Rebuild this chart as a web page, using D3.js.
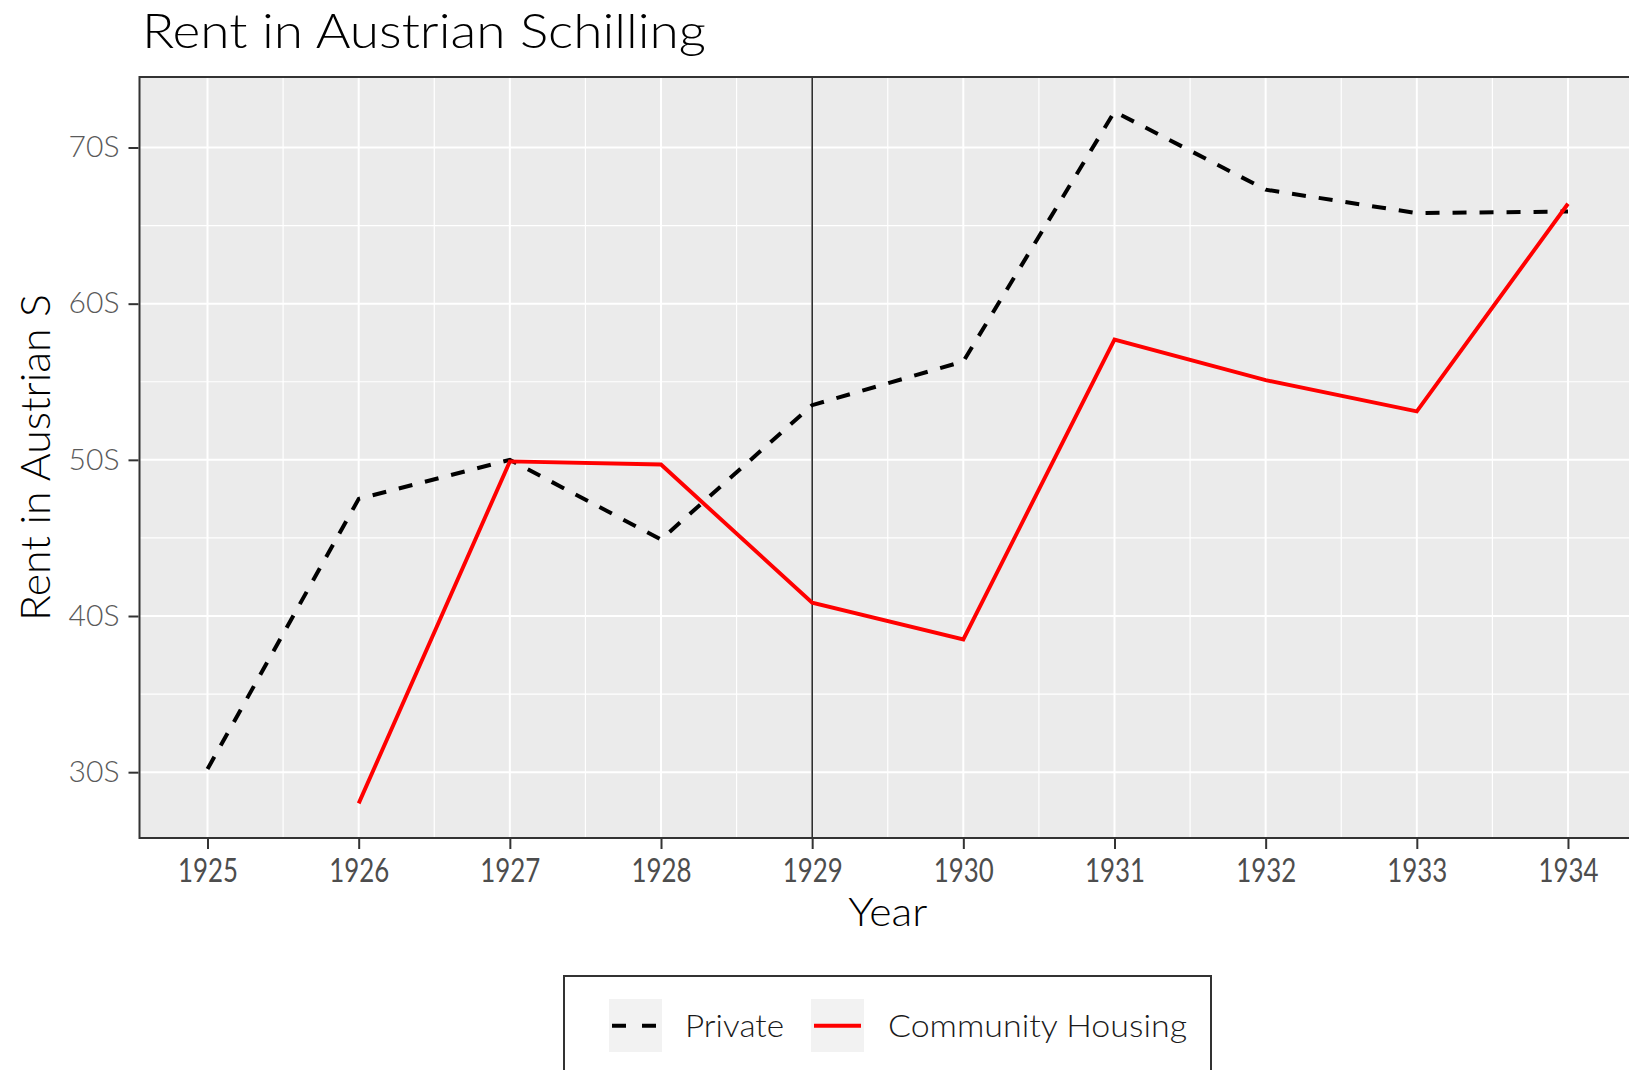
<!DOCTYPE html>
<html>
<head>
<meta charset="utf-8">
<script src="https://cdn.jsdelivr.net/npm/d3@7/dist/d3.min.js"></script>
<style>
  body { margin: 0; background: #fff; overflow: hidden; }
  text { font-family: "Lato", "Noto Sans", sans-serif; }
</style>
</head>
<body>
<svg id="chart" width="1629" height="1070"></svg>
<script>
// Data
const years = [1925, 1926, 1927, 1928, 1929, 1930, 1931, 1932, 1933, 1934];
const privateRent = [30.2, 47.5, 50.0, 44.9, 53.5, 56.3, 72.3, 67.3, 65.8, 65.9];
const communityRent = [null, 28.0, 49.9, 49.7, 40.85, 38.5, 57.7, 55.1, 53.1, 66.4];
const yTicks = [30, 40, 50, 60, 70];
const yMinor = [35, 45, 55, 65];
const xMinor = [1925.5, 1926.5, 1927.5, 1928.5, 1929.5, 1930.5, 1931.5, 1932.5, 1933.5];
const markerYear = 1929;
const seriesNames = ["Private", "Community Housing"];

const svg = d3.select("#chart");

// Panel box (right side runs past the window, like the reference)
const panel = { left: 139.5, right: 1636, top: 77, bottom: 838 };

// ggplot-like 5% expansion
const xExt = d3.extent(years);
const xPad = (xExt[1] - xExt[0]) * 0.05;
const allVals = privateRent.concat(communityRent).filter(v => v != null);
const yExt = d3.extent(allVals);
const yPad = (yExt[1] - yExt[0]) * 0.05;

const x = d3.scaleLinear()
    .domain([xExt[0] - xPad, xExt[1] + xPad])
    .range([panel.left, panel.right]);
const y = d3.scaleLinear()
    .domain([yExt[0] - yPad, yExt[1] + yPad])
    .range([panel.bottom, panel.top]);

// Helper: squeeze text to a measured width
function fit(sel, w) {
    sel.attr("textLength", w).attr("lengthAdjust", "spacingAndGlyphs");
    return sel;
}

// Title
fit(svg.append("text")
    .attr("x", 142)
    .attr("y", 48)
    .attr("font-size", 48)
    .attr("font-weight", 300)
    .attr("fill", "#000")
    .text("Rent in Austrian Schilling"), 564);

// Panel background
svg.append("rect")
    .attr("x", panel.left)
    .attr("y", panel.top)
    .attr("width", panel.right - panel.left)
    .attr("height", panel.bottom - panel.top)
    .attr("fill", "#EBEBEB");

const grid = svg.append("g");

// Minor grid
grid.selectAll(".ymin").data(yMinor).enter().append("line")
    .attr("x1", panel.left).attr("x2", panel.right)
    .attr("y1", d => y(d)).attr("y2", d => y(d))
    .attr("stroke", "#fff").attr("stroke-width", 1.2);
grid.selectAll(".xmin").data(xMinor).enter().append("line")
    .attr("y1", panel.top).attr("y2", panel.bottom)
    .attr("x1", d => x(d)).attr("x2", d => x(d))
    .attr("stroke", "#fff").attr("stroke-width", 1.2);

// Major grid
grid.selectAll(".ymaj").data(yTicks).enter().append("line")
    .attr("x1", panel.left).attr("x2", panel.right)
    .attr("y1", d => y(d)).attr("y2", d => y(d))
    .attr("stroke", "#fff").attr("stroke-width", 2);
grid.selectAll(".xmaj").data(years).enter().append("line")
    .attr("y1", panel.top).attr("y2", panel.bottom)
    .attr("x1", d => x(d)).attr("x2", d => x(d))
    .attr("stroke", "#fff").attr("stroke-width", 2);

// Vertical marker at 1929
svg.append("line")
    .attr("x1", x(markerYear)).attr("x2", x(markerYear))
    .attr("y1", panel.top).attr("y2", panel.bottom)
    .attr("stroke", "#000").attr("stroke-width", 1.3);

// Lines
const line = d3.line()
    .defined(d => d.v != null)
    .x(d => x(d.year))
    .y(d => y(d.v));

const privateData = years.map((yr, i) => ({ year: yr, v: privateRent[i] }));
const communityData = years.map((yr, i) => ({ year: yr, v: communityRent[i] }));

svg.append("path")
    .attr("d", line(privateData))
    .attr("fill", "none")
    .attr("stroke", "#000")
    .attr("stroke-width", 4)
    .attr("stroke-dasharray", "14,13");

svg.append("path")
    .attr("d", line(communityData))
    .attr("fill", "none")
    .attr("stroke", "#FF0000")
    .attr("stroke-width", 3.9);

// Panel border
svg.append("rect")
    .attr("x", panel.left)
    .attr("y", panel.top)
    .attr("width", panel.right - panel.left)
    .attr("height", panel.bottom - panel.top)
    .attr("fill", "none")
    .attr("stroke", "#333")
    .attr("stroke-width", 2);

// X axis
const xAxis = svg.append("g")
    .attr("transform", `translate(0,${panel.bottom + 1})`)
    .call(d3.axisBottom(x)
        .tickValues(years)
        .tickSize(10)
        .tickPadding(8)
        .tickFormat(d3.format("d")));
xAxis.select(".domain").remove();
xAxis.selectAll(".tick line").attr("stroke", "#333").attr("stroke-width", 2);
xAxis.selectAll(".tick text")
    .attr("y", 0)
    .attr("dy", 0)
    .attr("transform", "translate(0,43)")
    .attr("font-size", 32)
    .attr("fill", "#4D4D4D")
    .attr("font-family", "Lato")
    .attr("textLength", 60)
    .attr("lengthAdjust", "spacingAndGlyphs");

// Y axis
const yAxis = svg.append("g")
    .attr("transform", `translate(${panel.left - 1},0)`)
    .call(d3.axisLeft(y)
        .tickValues(yTicks)
        .tickSize(10)
        .tickPadding(9)
        .tickFormat(d => d + "S"));
yAxis.select(".domain").remove();
yAxis.selectAll(".tick line").attr("stroke", "#333").attr("stroke-width", 2);
yAxis.selectAll(".tick text")
    .attr("font-size", 29)
    .attr("font-weight", 300)
    .attr("fill", "#5A5A5A")
    .attr("font-family", "Noto Sans")
    .attr("textLength", 51)
    .attr("lengthAdjust", "spacingAndGlyphs");

// Axis titles
fit(svg.append("text")
    .attr("x", (panel.left + panel.right) / 2)
    .attr("y", 926)
    .attr("text-anchor", "middle")
    .attr("font-size", 40)
    .attr("font-weight", 300)
    .attr("fill", "#000")
    .text("Year"), 79);

fit(svg.append("text")
    .attr("transform", `translate(50,${(panel.top + panel.bottom) / 2}) rotate(-90)`)
    .attr("text-anchor", "middle")
    .attr("font-size", 42)
    .attr("font-weight", 300)
    .attr("fill", "#000")
    .text("Rent in Austrian S"), 327);

// Legend
const legend = svg.append("g");
legend.append("rect")
    .attr("x", 564).attr("y", 976)
    .attr("width", 647).attr("height", 140)
    .attr("fill", "#fff")
    .attr("stroke", "#333")
    .attr("stroke-width", 2);

const keyX = [609, 811];
const labelX = [685, 888];
const labelW = [99, 299];
const keyStyles = [
    { stroke: "#000", dash: "14,16", w: 4 },
    { stroke: "#FF0000", dash: null, w: 3.9 }
];

seriesNames.forEach((name, i) => {
    legend.append("rect")
        .attr("x", keyX[i]).attr("y", 999)
        .attr("width", 53).attr("height", 53)
        .attr("fill", "#F2F2F2");
    legend.append("line")
        .attr("x1", keyX[i] + 3).attr("x2", keyX[i] + 50)
        .attr("y1", 1025.7).attr("y2", 1025.7)
        .attr("stroke", keyStyles[i].stroke)
        .attr("stroke-width", keyStyles[i].w)
        .attr("stroke-dasharray", keyStyles[i].dash);
    fit(legend.append("text")
        .attr("x", labelX[i])
        .attr("y", 1037)
        .attr("font-size", 32)
        .attr("font-weight", 300)
        .attr("fill", "#1A1A1A")
        .text(name), labelW[i]);
});
</script>
</body>
</html>
